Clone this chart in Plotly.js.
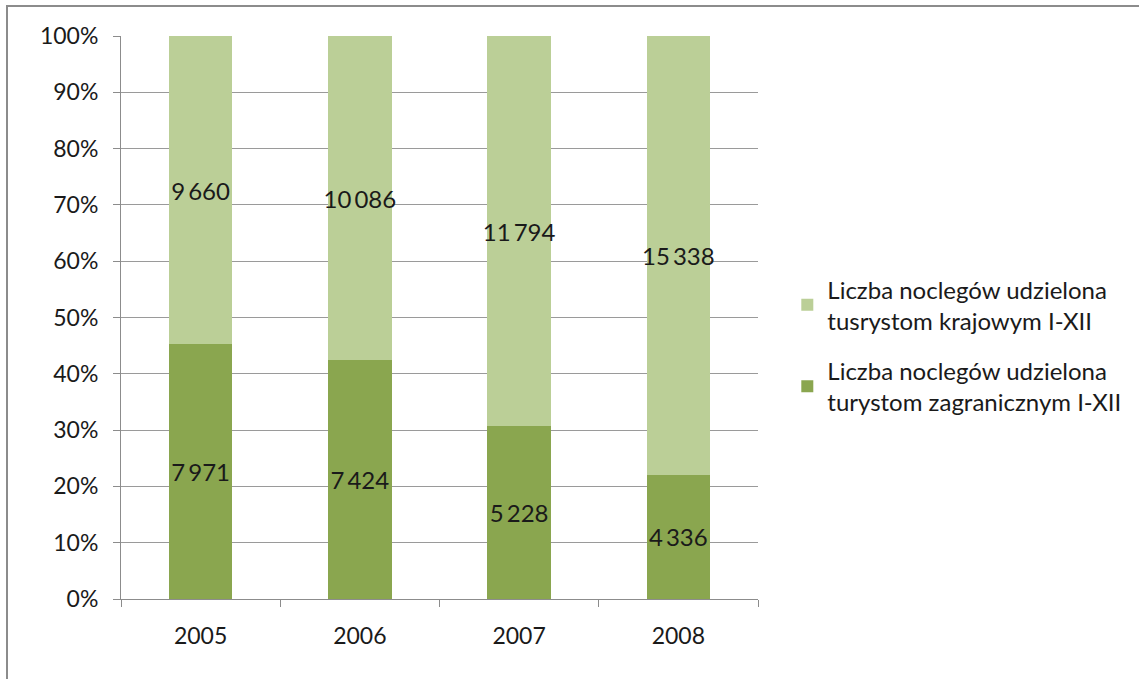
<!DOCTYPE html>
<html>
<head>
<meta charset="utf-8">
<script src="https://cdn.plot.ly/plotly-3.0.1.min.js"></script>
<style>
  html, body { margin: 0; padding: 0; background: #fff; }
  #chart { width: 1139px; height: 679px; }
  #frame { position: absolute; left: 6px; top: 5px; width: 1200px; height: 800px;
           border-left: 2px solid #8c8c8c; border-top: 2px solid #8c8c8c; pointer-events: none; }
</style>
</head>
<body>
<div id="chart"></div>
<div id="frame"></div>
<script>
const years = ['2005', '2006', '2007', '2008'];
const foreignValues = [7971, 7424, 5228, 4336];
const domesticValues = [9660, 10086, 11794, 15338];
const foreignName = 'Liczba noclegów udzielona<br>turystom zagranicznym I-XII';
const domesticName = 'Liczba noclegów udzielona<br>tusrystom krajowym I-XII';
const yTicks = [0, 10, 20, 30, 40, 50, 60, 70, 80, 90, 100];
const yTickLabels = yTicks.map(v => v + '%');

function fmt(v) {
  return String(v).replace(/\B(?=(\d{3})+(?!\d))/g, '\u2009');
}

const fontFam = 'Lato, "Open Sans", sans-serif';

const traces = [
  {
    type: 'bar', name: foreignName, x: years, y: foreignValues,
    legendgroup: 'f', legendrank: 2,
    marker: { color: '#8aa64f' },
    text: foreignValues.map(fmt), textposition: 'inside', insidetextanchor: 'middle',
    textangle: 0, constraintext: 'none',
    insidetextfont: { family: fontFam, size: 24, color: '#1a1a1a' },
    hoverinfo: 'none'
  },
  {
    type: 'bar', name: domesticName, x: years, y: domesticValues,
    legendgroup: 'd', legendrank: 1,
    marker: { color: '#bbcf97' },
    text: domesticValues.map(fmt), textposition: 'inside', insidetextanchor: 'middle',
    textangle: 0, constraintext: 'none',
    insidetextfont: { family: fontFam, size: 24, color: '#1a1a1a' },
    hoverinfo: 'none'
  }
];

const layout = {
  width: 1139, height: 679,
  margin: { l: 121, r: 381, t: 36, b: 80 },
  barmode: 'stack', barnorm: 'percent', bargap: 0.6,
  paper_bgcolor: '#fff', plot_bgcolor: '#fff',
  font: { family: fontFam, size: 23, color: '#1a1a1a' },
  showlegend: true,
  legend: {
    x: 1.046, xanchor: 'left', y: 0.45, yanchor: 'middle',
    traceorder: 'grouped',
    font: { family: fontFam, size: 24, color: '#1a1a1a' },
    tracegroupgap: 16, bgcolor: 'rgba(0,0,0,0)'
  },
  xaxis: {
    type: 'category', tickson: 'boundaries', ticks: 'outside', ticklen: 7,
    tickcolor: '#8c8c8c', showline: true, linecolor: '#8c8c8c', linewidth: 1,
    showgrid: false, tickfont: { family: fontFam, size: 23, color: '#1a1a1a' },
    ticklabelstandoff: 16,
    fixedrange: true
  },
  yaxis: {
    range: [0, 100], tickvals: yTicks, ticktext: yTickLabels,
    ticks: 'outside', ticklen: 7, tickcolor: '#8c8c8c',
    showline: true, linecolor: '#8c8c8c', linewidth: 1,
    showgrid: true, gridcolor: '#9a9a9a', gridwidth: 1, zeroline: false,
    tickfont: { family: fontFam, size: 23, color: '#1a1a1a' },
    ticklabelstandoff: 10,
    fixedrange: true
  }
};

Plotly.newPlot('chart', traces, layout, { displayModeBar: false, staticPlot: true });
</script>
</body>
</html>
